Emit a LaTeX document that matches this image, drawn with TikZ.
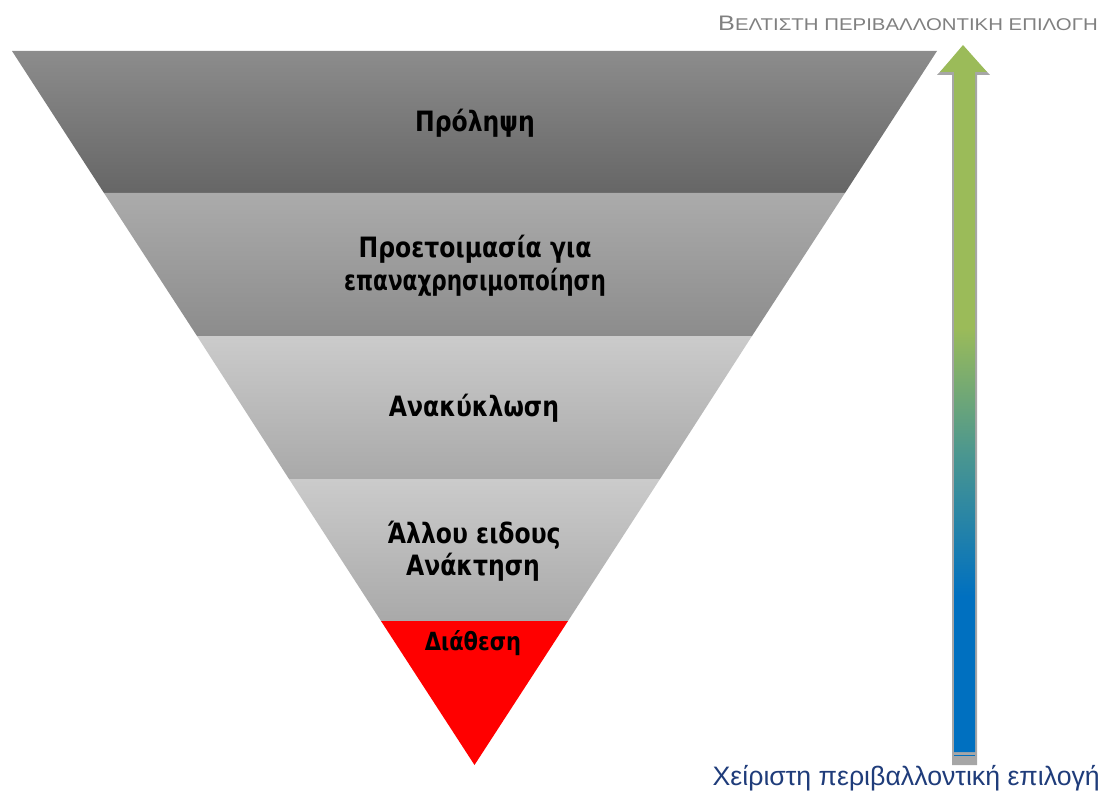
\documentclass[tikz,border=0pt]{standalone}
\usepackage{fontspec}
\usepackage{graphicx}
\setmainfont{DejaVu Sans}
\newfontfamily\labfont{DejaVu Sans}
\newfontfamily\capfont{Liberation Sans}
\definecolor{bandA1}{HTML}{8C8C8C}
\definecolor{bandA2}{HTML}{666666}
\definecolor{bandB1}{HTML}{ABABAB}
\definecolor{bandB2}{HTML}{8C8C8C}
\definecolor{bandC1}{HTML}{CBCBCB}
\definecolor{bandC2}{HTML}{A9A9A9}
\definecolor{arrowgreen}{HTML}{9BBB59}
\definecolor{arrowteal}{HTML}{4A9690}
\definecolor{arrowblue}{HTML}{0070C0}
\definecolor{shadowgray}{HTML}{A6A6A6}
\definecolor{toptext}{HTML}{808080}
\definecolor{bottomtext}{HTML}{1F3C7A}
\definecolor{dispred}{HTML}{FF0000}
% path bounding box maps to 25bp (bottom) .. 75bp (top)
\pgfdeclareverticalshading{arrowshade}{100bp}{
  color(0bp)=(arrowblue);
  color(36bp)=(arrowblue);
  color(46bp)=(arrowteal);
  color(55bp)=(arrowgreen);
  color(100bp)=(arrowgreen)}
\newcommand{\narrow}[1]{\scalebox{0.84}[1]{#1}}
\tikzset{
  bandlabel/.style={font=\labfont\bfseries\fontsize{28}{32}\selectfont, text=black, inner sep=0pt, anchor=base},
  smalllabel/.style={bandlabel, font=\labfont\bfseries\fontsize{25}{28}\selectfont},
}
\begin{document}
\begin{tikzpicture}[x=1pt,y=-1pt]
\useasboundingbox (0,0) rectangle (1102,794);
% bands
\shade[top color=bandA1, bottom color=bandA2] (12,51) -- (937,51) -- (845,193) -- (104,193) -- cycle;
\shade[top color=bandB1, bottom color=bandB2] (104,193) -- (845,193) -- (752,336) -- (197,336) -- cycle;
\shade[top color=bandC1, bottom color=bandC2] (197,336) -- (752,336) -- (660,479) -- (289,479) -- cycle;
\shade[top color=bandC1, bottom color=bandC2] (289,479) -- (660,479) -- (568,621) -- (381,621) -- cycle;
\fill[dispred] (381,621) -- (568,621) -- (474.5,765) -- cycle;
% labels
\node[bandlabel] (l1) at (475,132) {\narrow{Πρόληψη}};
\node[bandlabel] (l2a) at (475,258) {\narrow{Προετοιμασία για}};
\node[bandlabel] (l2b) at (475,290) {\scalebox{0.77}[1]{επαναχρησιμοποίηση}};
\node[bandlabel] (l3) at (474,416) {\narrow{Ανακύκλωση}};
\node[bandlabel] (l4a) at (474,543) {\narrow{Άλλου ειδους}};
\node[bandlabel] (l4b) at (473,575) {\narrow{Ανάκτηση}};
\node[smalllabel] (l5) at (473,650) {\narrow{Διάθεση}};
% arrow shadow
\fill[shadowgray] (963,47) -- (990,75) -- (977,75) -- (977,765) -- (952,765) -- (952,75) -- (937,75) -- cycle;
% arrow
\shade[shading=arrowshade] (963,45) -- (987,72) -- (975,72) -- (975,752) -- (954,752) -- (954,72) -- (940,72) -- cycle;
\draw[arrowblue, line width=1.2] (954,755.5) -- (975,755.5);
% captions
\node[anchor=base west, inner sep=0pt, text=toptext, font=\capfont] (top) at (718,31)
  {\scalebox{1.2}[1]{{\fontsize{21}{24}\selectfont Β}{\fontsize{17}{20}\selectfont ΕΛΤΙΣΤΗ ΠΕΡΙΒΑΛΛΟΝΤΙΚΗ ΕΠΙΛΟΓΗ}}};
\node[anchor=base east, inner sep=0pt, text=bottomtext, font=\capfont\fontsize{26.7}{30}\selectfont] (bot) at (1100,785)
  {Χείριστη περιβαλλοντική επιλογή};
\end{tikzpicture}
\end{document}
